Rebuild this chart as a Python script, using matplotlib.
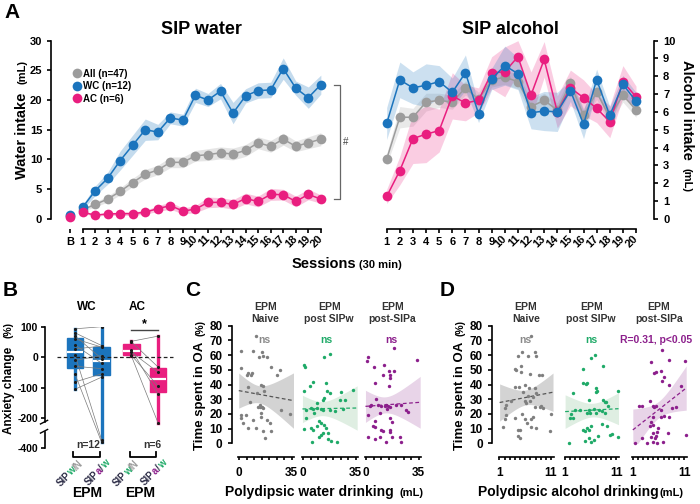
import numpy as np
import matplotlib
matplotlib.use('Agg')
import matplotlib.pyplot as plt
from matplotlib import cbook
from matplotlib.lines import Line2D
from matplotlib.transforms import blended_transform_factory

plt.rcParams['font.family'] = ['Liberation Sans', 'DejaVu Sans']
plt.rcParams['font.weight'] = 'bold'
plt.rcParams['axes.linewidth'] = 1.2
plt.rcParams['xtick.major.width'] = 1.2
plt.rcParams['ytick.major.width'] = 1.2
plt.rcParams['xtick.major.size'] = 3
plt.rcParams['ytick.major.size'] = 3

# ---------------- data ----------------
sessions = ['B'] + [str(i) for i in range(1, 21)]
water_all = [0.5, 1.5, 2.4, 3.3, 4.6, 6.1, 7.5, 8.2, 9.5, 9.5, 10.6, 10.8, 11.1, 10.9, 11.5, 12.8, 12.2, 13.4, 12.2, 12.8, 13.4]
water_all_sem = [0.1, 0.3, 0.4, 0.5, 0.6, 0.7, 0.8, 0.8, 0.9, 0.9, 0.9, 1.0, 1.0, 1.0, 1.0, 1.0, 1.0, 1.0, 0.9, 1.0, 1.1]
water_wc = [0.7, 1.9, 4.7, 6.8, 9.8, 12.4, 15.0, 14.6, 17.0, 16.6, 20.8, 20.0, 21.5, 17.8, 20.7, 21.6, 21.7, 25.3, 22.0, 20.4, 22.6]
water_wc_sem = [0.2, 0.4, 0.8, 1.0, 1.6, 1.7, 1.8, 1.3, 1.0, 1.0, 1.2, 1.1, 1.3, 1.8, 1.2, 1.3, 1.3, 1.8, 1.2, 1.8, 1.6]
water_ac = [0.35, 1.1, 0.6, 0.8, 0.85, 0.85, 1.1, 1.7, 2.2, 1.3, 1.6, 2.75, 2.75, 2.4, 3.4, 2.9, 4.1, 4.05, 2.9, 4.1, 3.3]
water_ac_sem = [0.1, 0.2, 0.2, 0.2, 0.3, 0.3, 0.3, 0.5, 0.6, 0.5, 0.6, 0.9, 0.8, 0.8, 0.9, 0.9, 1.0, 0.9, 0.9, 0.9, 0.7]

alc_sessions = [str(i) for i in range(1, 21)]
alc_all = [3.35, 5.7, 5.7, 6.55, 6.65, 6.55, 7.35, 6.7, 7.8, 7.95, 7.7, 6.3, 6.65, 6.1, 7.6, 5.8, 7.1, 5.7, 6.95, 6.1]
alc_all_sem = [0.3, 0.6, 0.5, 0.5, 0.4, 0.4, 0.4, 0.4, 0.4, 0.4, 0.4, 0.4, 0.4, 0.4, 0.4, 0.4, 0.4, 0.4, 0.4, 0.4]
alc_wc = [5.35, 7.8, 7.35, 7.5, 7.7, 7.1, 8.2, 5.9, 7.85, 8.6, 8.15, 5.95, 6.05, 6.0, 7.2, 5.3, 7.8, 5.8, 7.55, 6.6]
alc_wc_sem = [0.9, 1.0, 0.9, 1.2, 0.9, 0.8, 1.0, 0.5, 0.6, 1.1, 0.9, 0.9, 1.1, 1.1, 0.6, 0.8, 0.6, 0.5, 0.5, 0.5]
alc_ac = [1.25, 2.7, 4.5, 4.75, 4.95, 6.9, 6.5, 6.65, 8.2, 8.25, 9.1, 6.95, 8.95, 6.0, 7.35, 6.8, 6.2, 5.45, 7.7, 6.85]
alc_ac_sem = [0.4, 0.8, 1.4, 1.6, 1.2, 1.3, 1.0, 0.7, 0.9, 1.4, 0.9, 1.3, 1.0, 0.9, 1.0, 1.0, 0.8, 0.9, 0.9, 0.6]

# panel B, anxiety change (%), pairs in same order
wc_sipw = [93, 80, 70, 60, 40, 27, 8, -11, -30, -55, -82, -106]
wc_sipa = [100, 38, -5, 33, -20, 36, -345, 5, -38, -360, -55, -66]
ac_sipw = [52, 50, 24, 16, 6, 3]
ac_sipa = [69, -33, -123, -50, -96, -235]

# panel C: x = polydipsic water drinking (mL), y = time in OA (%)
c_naive_x = [11.3, 1.3, 9.1, 15.3, 15.8, 13.1, 18.5, 0.9, 5.8, 8.5, 5.3, 7.6, 21.3, 25.3, 26.9, 14.7, 15.8, 5.8, 12.0, 16.5, 6.9,
             13.6, 12.5, 13.8, 15.0, 16.1, 14.7, 0.9, 4.7, 1.3, 14.7, 28.0, 33.6, 2.5, 9.1, 18.7, 20.3, 5.8, 11.3, 20.9, 15.8, 16.9]
c_naive_y = [73, 62.8, 62.8, 62, 59.6, 58.8, 58.4, 51, 48, 48, 46.5, 46.5, 52, 46.5, 49.8, 39.6, 39, 38.5, 34.4, 35.5, 28.3,
             26, 24.4, 24.4, 24.4, 23.7, 20.4, 19.3, 19.3, 17, 18.2, 22.7, 19.7, 14, 15.9, 15.9, 13.6, 10.2, 10.2, 8.4, 8.4, 3.4]
c_sipw_x = [14.2, 18.2, 0.9, 1.3, 6.4, 4.7, 15.3, 0.9, 16.0, 18.2, 25.3, 33.5, 14.2, 13.1, 24.9, 28.0, 9.1, 5.3, 6.4, 9.6, 12.0,
            13.1, 2.0, 21.3, 26.4, 17.8, 2.0, 7.6, 10.9, 12.0, 14.2, 5.3, 0.9, 6.4, 9.3, 15.3, 13.1, 12.0, 10.9, 16.4, 16.4,
            18.7, 22.7, 5.8]
c_sipw_y = [58.9, 60.5, 53.3, 52.2, 41.9, 39, 41, 35.6, 35.6, 34.4, 35, 36.3, 31, 29.4, 29.4, 29.4, 27.7, 23.8, 23.1, 23.8, 23.1,
            22.7, 22.7, 22.2, 23.1, 22.7, 17.4, 20.4, 15.2, 13.6, 12.5, 10.2, 9.5, 9.1, 11.8, 10.2, 6.8, 5.7, 4.6, 6.8, 2.7,
            1.8, 1.1, 1.1]
c_sipa_x = [18.7, 1.3, 0.9, 34.0, 5.3, 12.0, 15.1, 18.7, 11.3, 15.8, 16.2, 5.8, 15.3, 6.9, 3.6, 2.4, 8.0, 10.2, 12.4, 13.6,
            14.7, 15.8, 14.2, 20.2, 23.6, 26.9, 28.0, 1.3, 9.1, 5.8, 4.7, 5.8, 15.8, 17.0, 9.8, 11.3, 15.8, 16.2, 1.3, 5.8,
            9.1, 17.0, 22.4, 13.6, 23.6]
c_sipa_y = [64.6, 58.5, 56.2, 57, 52.1, 53.3, 49.4, 49.4, 46.5, 46.5, 44.2, 40.8, 39.3, 29.9, 26, 25.3, 26, 25.3, 25.3, 26,
            25.3, 24.4, 23.1, 26, 26, 22.7, 21.5, 19.3, 20.4, 15, 11.5, 11.1, 17.2, 14.3, 9.3, 8.2, 9.3, 7.5, 4.2, 2.9,
            4.2, 4.6, 4.2, 1.1, 0.9]

# panel D: x = polydipsic alcohol drinking (mL)
d_naive_x = [7.1, 5.3, 7.9, 6.6, 8.1, 4.5, 5.1, 4.0, 4.3, 5.1, 6.9, 8.7, 9.2, 5.9, 4.0, 4.8, 6.7, 7.8, 5.6, 8.1, 6.5, 7.5,
             5.9, 6.2, 6.9, 3.3, 2.3, 2.0, 7.8, 9.1, 8.8, 9.4, 11.0, 2.3, 2.0, 1.7, 4.0, 5.3, 5.9, 7.1, 7.5, 6.4, 7.1, 4.6,
             4.9, 10.9, 8.1, 4.5, 4.9]
d_naive_y = [73.2, 62.3, 62.3, 59.4, 59.4, 59.4, 52.6, 50.3, 49.8, 48.7, 47.1, 46.5, 46.5, 39.6, 38.5, 38.5, 37.4, 37.4,
             35.1, 34, 32.2, 31.3, 28.5, 27.7, 28.5, 28.5, 26, 23.8, 24.9, 25.3, 24.4, 23.8, 19.7, 19, 16.7, 11.2, 17.4,
             19.7, 16.3, 16.7, 17.9, 13.9, 11, 9.2, 9.2, 8.2, 10.3, 5.2, 3.9]
d_sipw_x = [6.9, 6.1, 8.4, 4.5, 4.5, 5.3, 5.0, 7.1, 7.0, 7.3, 2.6, 11.3, 5.6, 8.4, 8.7, 9.0, 9.4, 3.0, 3.9, 2.1, 1.9, 2.5,
            5.6, 6.6, 7.6, 8.1, 7.1, 8.8, 5.9, 5.2, 8.2, 6.1, 5.3, 4.5, 4.8, 5.6, 9.2, 9.7, 10.2, 11.2, 7.4, 5.6, 4.8,
            6.6, 6.0, 1.7]
d_sipw_y = [60, 57.8, 52.6, 50.3, 41.2, 41.2, 40.1, 37.4, 35.1, 35.8, 34.4, 35.6, 29.4, 29.4, 28.3, 28.3, 25.3, 22.7,
            22.7, 19.7, 17, 17, 22.7, 23.4, 22.7, 22.2, 20.9, 20.9, 20.4, 20.4, 13.4, 11.7, 10.6, 9.1, 8.6, 9.1, 11.7,
            5.7, 6.1, 4.6, 5.2, 3.6, 1.4, 2.0, 0.8, 0.3]
d_sipa_x = [6.7, 4.6, 8.1, 11.2, 5.6, 6.5, 5.1, 7.1, 6.6, 8.1, 10.3, 4.3, 2.3, 2.9, 4.9, 5.2, 5.6, 8.7, 9.4, 6.5, 4.9,
            6.5, 7.0, 8.1, 4.6, 4.4, 4.9, 5.9, 5.8, 4.9, 7.8, 11.3, 2.9, 4.6, 5.6, 5.4, 3.7, 4.9, 5.7, 6.9, 1.5]
d_sipa_y = [63.5, 55.6, 57, 56, 48.7, 49.4, 47.6, 45.3, 42.4, 39.6, 39, 29, 25.3, 25.3, 25.3, 24.4, 25.3, 23.8, 24.4,
            22.7, 18.1, 17.6, 18.8, 18.1, 14.5, 11.6, 12.2, 10.6, 7.6, 7.0, 7.0, 5.9, 3.6, 4.3, 4.8, 3.6, 0.2, 0.6, 0.2,
            0.6, 0.2]

# ---------------- colours ----------------
c_blue, c_pink, c_gray = '#1b74bd', '#e91e7f', '#9c9c9c'
c_green, c_purple = '#1faa68', '#8c1f8c'
c_dark = '#2e2e48'

W, H = 700, 504
fig = plt.figure(figsize=(7, 5.04), dpi=100)


def px_axes(left, top, right, bottom):
    return fig.add_axes([left / W, 1 - bottom / H, (right - left) / W, (bottom - top) / H])


def px_text(x, y, s, **kw):
    return fig.text(x / W, 1 - y / H, s, **kw)


def style_session_axis(ax, labels, positions):
    # spine position first: moving the spine rebuilds the tick objects
    ax.spines['bottom'].set_position(('outward', 7.5))
    ax.spines['bottom'].set_bounds(1, 20)
    ax.spines['top'].set_visible(False)
    ax.set_xticks(positions)
    ax.set_xticklabels(labels, fontsize=8)
    ax.tick_params(axis='x', pad=2.5)
    for lbl in ax.get_xticklabels():
        if len(lbl.get_text()) > 1:
            lbl.set_rotation(45)
            lbl.set_ha('right')
            lbl.set_rotation_mode('anchor')
            lbl.set_va('center')


# ---------------- panel A: water ----------------
axw = px_axes(51.2, 40.7, 352.2, 218.7)
x_s = np.arange(1, 21)
for vals, sem, col in [(water_all, water_all_sem, c_gray), (water_wc, water_wc_sem, c_blue),
                       (water_ac, water_ac_sem, c_pink)]:
    v, s = np.array(vals), np.array(sem)
    axw.fill_between(x_s, v[1:] - s[1:], v[1:] + s[1:], color=col, alpha=0.26, lw=0)
    axw.plot(x_s, v[1:], '-o', color=col, ms=7, mew=0, lw=1.1, clip_on=False)
    axw.plot([0], v[:1], 'o', color=col, ms=7, mew=0, clip_on=False)
axw.set_xlim(-1.5, 22.5)
axw.set_ylim(0, 30)
axw.spines['right'].set_visible(False)
style_session_axis(axw, sessions, range(0, 21))
axw.set_yticks(range(0, 31, 5))
axw.tick_params(axis='y', labelsize=8)

# bracket + #
axw.plot([21.05, 21.5, 21.5, 21.05], [water_wc[-1], water_wc[-1], water_ac[-1], water_ac[-1]],
         color='#666666', lw=0.9, clip_on=False)
axw.text(21.95, (water_wc[-1] + water_ac[-1]) / 2, '#', fontsize=7, color='#444444',
         fontweight='normal', ha='center', va='center')

handles = [Line2D([], [], marker='o', ls='', color=c, ms=7, mew=0) for c in (c_gray, c_blue, c_pink)]
axw.legend(handles, ['All (n=47)', 'WC (n=12)', 'AC (n=6)'], loc='upper left', bbox_to_anchor=(0.055, 0.87),
           frameon=False, fontsize=7, handlelength=0.9, handletextpad=0.15, labelspacing=0.25, borderpad=0)
axw.set_title('SIP water', fontsize=13, fontweight='bold', pad=5)

px_text(22, 136, 'Water intake', rotation=90, fontsize=10.5, ha='center', va='center')
px_text(22, 72, '(mL)', rotation=90, fontsize=8, ha='center', va='center')

# ---------------- panel A: alcohol ----------------
axa = px_axes(367, 40.7, 654, 218.7)
x_a = np.arange(1, 21)
for vals, sem, col in [(alc_all, alc_all_sem, c_gray), (alc_ac, alc_ac_sem, c_pink), (alc_wc, alc_wc_sem, c_blue)]:
    v, s = np.array(vals), np.array(sem)
    axa.fill_between(x_a, v - s, v + s, color=col, alpha=0.22, lw=0)
    axa.plot(x_a, v, '-o', color=col, ms=7, mew=0, lw=1.1, clip_on=False)
axa.set_xlim(-0.5, 21.37)
axa.set_ylim(0, 10)
axa.spines['left'].set_visible(False)
style_session_axis(axa, alc_sessions, x_a)
axa.yaxis.tick_right()
axa.set_yticks(range(0, 11))
axa.tick_params(axis='y', labelsize=8)
axa.set_title('SIP alcohol', fontsize=13, fontweight='bold', pad=5)

px_text(687, 110, 'Alcohol intake', rotation=-90, fontsize=10.5, ha='center', va='center')
px_text(687, 180, '(mL)', rotation=-90, fontsize=8, ha='center', va='center')
px_text(356, 264, 'Sessions', fontsize=10.5, ha='right', va='center')
px_text(359, 265, '(30 min)', fontsize=8, ha='left', va='center')

# ---------------- panel B ----------------
axb = px_axes(45, 326.7, 175, 448.3)


def brk(v):
    v = np.asarray(v, dtype=float)
    return np.where(v >= -200, v, -200 + (v + 200) / 2)


b_data = [wc_sipw, wc_sipa, ac_sipw, ac_sipa]
b_pos = [0, 1, 2.12, 3.12]
b_cols = [c_blue, c_blue, c_pink, c_pink]
stats = cbook.boxplot_stats([brk(d) for d in b_data], whis=(0, 100))
parts = axb.bxp(stats, positions=b_pos, widths=0.62, patch_artist=True, showfliers=False, showcaps=False,
                medianprops=dict(color='white', lw=1.6), whiskerprops=dict(lw=2.4))
for i, col in enumerate(b_cols):
    parts['boxes'][i].set_facecolor(col)
    parts['boxes'][i].set_edgecolor(col)
    parts['whiskers'][2 * i].set_color(col)
    parts['whiskers'][2 * i + 1].set_color(col)

for left, right, p0, p1 in [(wc_sipw, wc_sipa, 0, 1), (ac_sipw, ac_sipa, 2.12, 3.12)]:
    for a, b in zip(left, right):
        axb.plot([p0, p1], brk([a, b]), color='#7a7a7a', lw=0.5, zorder=3)
    axb.scatter(np.full(len(left), p0), brk(left), s=5, color='#1a1a1a', zorder=4, lw=0)
    axb.scatter(np.full(len(right), p1), brk(right), s=5, color='#1a1a1a', zorder=4, lw=0)

axb.axhline(0, xmin=0.09, xmax=0.985, color='#222222', lw=0.9, ls=(0, (3, 2)), zorder=5)
axb.plot([2.12, 3.12], [88, 88], color='#444444', lw=1)
axb.text(2.62, 90, '*', ha='center', va='bottom', fontsize=9)

axb.set_xlim(-1.12, 3.75)
axb.set_ylim(-300, 100)
for sp in ['top', 'right', 'bottom']:
    axb.spines[sp].set_visible(False)
axb.spines['left'].set_bounds(-212, 100)
axb.set_yticks([100, 0, -100, -200, -300])
axb.set_yticklabels(['100', '0', '-100', '-200', '-400'], fontsize=7.5)
axb.tick_params(axis='y', pad=2)
axb.set_xticks([])
tb = blended_transform_factory(axb.transAxes, axb.transData)
axb.plot([0, 0], [-245, -300], color='black', lw=1.2, transform=tb, clip_on=False)
axb.plot([-0.035, 0.02], [-220, -208], color='black', lw=1.0, transform=tb, clip_on=False)
axb.plot([-0.035, 0.02], [-250, -238], color='black', lw=1.0, transform=tb, clip_on=False)

# group brackets
for p0, p1 in [(0, 1), (2.12, 3.12)]:
    axb.plot([p0 - 0.07, p0 - 0.07, p1 - 0.07, p1 - 0.07], [-311, -327, -327, -311],
             color='black', lw=1.3, clip_on=False)

px_text(87, 307, 'WC', fontsize=8.5, ha='center', va='center')
px_text(137, 307, 'AC', fontsize=8.5, ha='center', va='center')
px_text(88, 445, 'n=12', fontsize=7.5, ha='center', va='center', color='#333333')
px_text(152, 445, 'n=6', fontsize=7.5, ha='center', va='center', color='#333333')
px_text(87, 493, 'EPM', fontsize=10, ha='center', va='center')
px_text(140, 493, 'EPM', fontsize=10, ha='center', va='center')
px_text(9, 390, 'Anxiety change', rotation=90, fontsize=8.5, ha='center', va='center')
px_text(9, 330, '(%)', rotation=90, fontsize=7.5, ha='center', va='center')

# multi-coloured rotated labels
fig.canvas.draw()
rend = fig.canvas.get_renderer()


def color_label(ax, x, y, pieces, size=7):
    widths = []
    for s, c in pieces:
        t = fig.text(0, 0, s, fontsize=size)
        widths.append(t.get_window_extent(rend).width)
        t.remove()
    ex, ey = ax.transData.transform((x, y))
    d = np.sqrt(0.5)
    cx, cy = ex - sum(widths) * d, ey - sum(widths) * d
    for (s, c), w in zip(pieces, widths):
        fx, fy = fig.transFigure.inverted().transform((cx, cy))
        fig.text(fx, fy, s, color=c, fontsize=size, rotation=45, rotation_mode='anchor',
                 ha='left', va='baseline')
        cx += w * d
        cy += w * d


lab_n = [('SIP', c_dark), ('w', c_green), ('/N', '#9a9a9a')]
lab_a = [('SIP', c_dark), ('a', c_purple), ('/', c_dark), ('w', c_green)]
for p, lab in zip(b_pos, [lab_n, lab_a, lab_n, lab_a]):
    color_label(axb, p + 0.33, -352, lab)

# ---------------- panels C and D ----------------


def fit_band(ax, xs, ys, lo, hi, band_col, line_col):
    x, y = np.array(xs), np.array(ys)
    n = len(x)
    b, a = np.polyfit(x, y, 1)
    xx = np.linspace(lo, hi, 60)
    yy = a + b * xx
    res = y - (a + b * x)
    s = np.sqrt(np.sum(res ** 2) / (n - 2))
    ci = 2.01 * s * np.sqrt(1 / n + (xx - x.mean()) ** 2 / np.sum((x - x.mean()) ** 2))
    ax.fill_between(xx, yy - ci, yy + ci, color=band_col, lw=0, zorder=1)
    ax.plot(xx, yy, color=line_col, lw=0.9, ls=(0, (3, 2)), zorder=3)


def scatter_panel(left, xlim, xt, xtl, xs, ys, dot_col, band_col, line_col, title, stat, stat_col, stat_x,
                  show_y, yoff):
    span = xlim[1] - xlim[0]
    width = span * (1.5 if xlim[1] > 20 else 5.15)
    ax = px_axes(left, 325.7, left + width, 443.3)
    ax.spines['bottom'].set_position(('outward', 9.6))
    ax.spines['bottom'].set_bounds(xlim[0] + 0.02 * span, xlim[1])
    for sp in ['top', 'right']:
        ax.spines[sp].set_visible(False)
    if show_y:
        ax.spines['left'].set_position(('outward', yoff))
        ax.spines['left'].set_bounds(0, 80)
        ax.set_yticks(range(0, 81, 10))
        ax.tick_params(axis='y', labelsize=8.5)
    else:
        ax.spines['left'].set_visible(False)
        ax.set_yticks([])
    fit_band(ax, xs, ys, xlim[0] + 0.03 * span, xlim[1] - 0.01 * span, band_col, line_col)
    ax.scatter(xs, ys, s=6, color=dot_col, lw=0, zorder=4, clip_on=False)
    ax.set_xlim(*xlim)
    ax.set_ylim(0, 80)
    ax.set_xticks(xt)
    ax.set_xticklabels(xtl, fontsize=8.5)
    ax.tick_params(axis='x', length=2.5, pad=5)
    ax.text(stat_x, 70, stat, color=stat_col, fontsize=7.5, ha='center', va='center', zorder=5)
    ax.text(np.mean(xlim), 88.6, title, fontsize=7.5, ha='center', va='center', color='#333333',
            linespacing=1.15, clip_on=False)
    return ax


c_ticks = list(range(0, 36, 5))
c_tl = ['0'] + [''] * 6 + ['35']
d_ticks = list(range(1, 12))
d_tl = ['1'] + [''] * 9 + ['11']

sub_c = [(237.05, c_naive_x, c_naive_y, '#7f7f7f', '#d3d3d3', '#555555', 'EPM\nNaive', 'ns', '#8a8a8a', 17.0),
         (300.75, c_sipw_x, c_sipw_y, c_green, '#dfeee2', c_green, 'EPM\npost SIPw', 'ns', c_green, 15.8),
         (363.75, c_sipa_x, c_sipa_y, c_purple, '#e8d4e8', c_purple, 'EPM\npost-SIPa', 'ns', c_purple, 17.1)]
for i, (lft, xs, ys, dc, bc, lc, tt, st, sc, sx) in enumerate(sub_c):
    scatter_panel(lft, (-1.5, 36.5), c_ticks, c_tl, xs, ys, dc, bc, lc, tt, st, sc, sx, i == 0, 3.9)

sub_d = [(497.95, d_naive_x, d_naive_y, '#7f7f7f', '#d3d3d3', '#555555', 'EPM\nNaive', 'ns', '#8a8a8a', 5.95),
         (563.45, d_sipw_x, d_sipw_y, c_green, '#dfeee2', c_green, 'EPM\npost SIPw', 'ns', c_green, 6.1),
         (631.15, d_sipa_x, d_sipa_y, c_purple, '#e8d4e8', c_purple, 'EPM\npost-SIPa', 'R=0.31, p<0.05',
          c_purple, 5.6)]
for i, (lft, xs, ys, dc, bc, lc, tt, st, sc, sx) in enumerate(sub_d):
    scatter_panel(lft, (0.7, 11.5), d_ticks, d_tl, xs, ys, dc, bc, lc, tt, st, sc, sx, i == 0, 4.5)

for xl in (200.5, 460.5):
    px_text(xl, 396, 'Time spent in OA', rotation=90, fontsize=9.5, ha='center', va='center')
    px_text(xl, 328, '(%)', rotation=90, fontsize=7.5, ha='center', va='center')
px_text(309, 492, 'Polydipsic water drinking', fontsize=10, ha='center', va='center')
px_text(400, 493, '(mL)', fontsize=8, ha='left', va='center')
px_text(568, 492, 'Polydipsic alcohol drinking', fontsize=10, ha='center', va='center')
px_text(660, 493, '(mL)', fontsize=8, ha='left', va='center')

# panel letters
for s, x, y in [('A', 4, 13), ('B', 3, 291), ('C', 185, 291), ('D', 440, 291)]:
    px_text(x, y, s, fontsize=15, ha='left', va='center')

fig.savefig('out.png', dpi=100)
